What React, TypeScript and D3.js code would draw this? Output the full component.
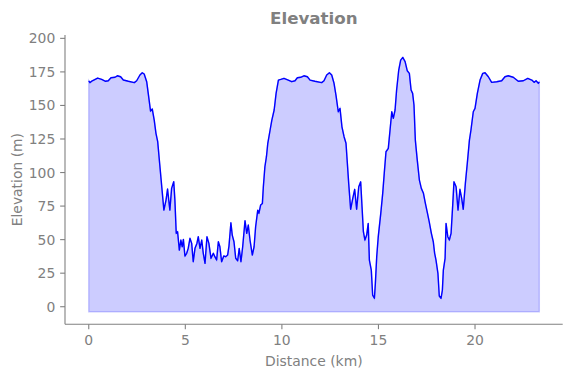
import React from "react";
import * as d3 from "d3";

const distanceKm = [
  0, 0.06, 0.18, 0.46, 0.67, 0.87, 1.01, 1.15, 1.36, 1.48, 1.65, 1.79, 2.05, 2.36, 2.48, 2.65, 2.77, 2.87, 3.0, 3.08,
  3.2, 3.29, 3.39, 3.48, 3.57, 3.67, 3.78, 3.89, 4.0, 4.08, 4.2, 4.29, 4.4, 4.46, 4.53, 4.6, 4.69, 4.77, 4.84, 4.9,
  4.98, 5.07, 5.15, 5.24, 5.33, 5.41, 5.5, 5.6, 5.67, 5.76, 5.85, 5.93, 6.02, 6.12, 6.22, 6.33, 6.45, 6.53, 6.62, 6.71,
  6.79, 6.88, 6.99, 7.09, 7.19, 7.26, 7.36, 7.43, 7.52, 7.61, 7.71, 7.79, 7.88, 7.97, 8.09, 8.18, 8.26, 8.35, 8.47, 8.56,
  8.64, 8.75, 8.81, 8.9, 8.99, 9.04, 9.12, 9.2, 9.27, 9.39, 9.48, 9.6, 9.7, 9.82, 9.94, 10.11, 10.33, 10.51, 10.68, 10.8,
  10.97, 11.14, 11.32, 11.46, 11.71, 12.06, 12.18, 12.32, 12.46, 12.58, 12.7, 12.8, 12.92, 13.01, 13.11, 13.22, 13.32, 13.39, 13.46, 13.56,
  13.67, 13.77, 13.87, 13.98, 14.08, 14.15, 14.22, 14.3, 14.39, 14.47, 14.53, 14.63, 14.7, 14.79, 14.84, 14.91, 14.99, 15.12, 15.22, 15.3,
  15.39, 15.51, 15.6, 15.69, 15.77, 15.86, 15.94, 16.05, 16.15, 16.26, 16.38, 16.49, 16.6, 16.69, 16.77, 16.84, 16.91, 17.01, 17.12, 17.22,
  17.33, 17.43, 17.54, 17.63, 17.74, 17.84, 17.91, 17.98, 18.08, 18.15, 18.24, 18.31, 18.36, 18.45, 18.5, 18.59, 18.67, 18.76, 18.85, 18.91,
  19.02, 19.12, 19.22, 19.31, 19.39, 19.5, 19.6, 19.71, 19.79, 19.91, 20.0, 20.12, 20.26, 20.4, 20.52, 20.69, 20.86, 21.12, 21.38, 21.55,
  21.72, 21.98, 22.24, 22.5, 22.73, 22.94, 23.06, 23.16, 23.28, 23.33,
];

const elevationM = [
  168.4, 167, 168.4, 170.4, 169.4, 168, 168.4, 170.6, 171, 172.1, 171.4, 169, 168, 167, 168.4, 172.7, 174.4, 173.4, 167.7, 159,
  145.8, 147.3, 139, 129.2, 123, 106.9, 89.4, 72, 79.5, 87.7, 72, 88.2, 93.2, 79.5, 54.7, 55.9, 42.2, 49.7, 44.7, 50.2,
  37.8, 39.8, 43.5, 51, 47.2, 33.5, 43.5, 47.2, 52.2, 43.5, 49.7, 39.8, 32.3, 52.2, 47.2, 36.1, 39.8, 37.3, 34.8, 48.4,
  44.7, 33.5, 37.8, 37.3, 38.5, 45.2, 62.6, 53.4, 48.4, 36.1, 34.3, 43.5, 33.5, 44.7, 64.1, 54.7, 60.9, 49.7, 38.5, 44.7,
  59.6, 72, 69.6, 75.8, 77, 89.4, 104.3, 111.8, 121.8, 131.7, 139.1, 146.6, 159, 168.9, 169.4, 170.2, 168.9, 167.7, 168.4, 170.6,
  171, 172.1, 171.4, 168.9, 168, 167, 168.4, 172.7, 174.4, 172.7, 166.5, 157.7, 145.3, 147.8, 134.1, 126.7, 121.8, 106.9, 91.9, 72.6,
  80.8, 87.5, 72.6, 89.4, 93.1, 74.5, 55.9, 49.7, 53.4, 62.1, 34.8, 27.3, 8.7, 6.3, 17.4, 37.3, 52.2, 69.6, 84.5, 99.4,
  115.5, 118, 131.7, 145.3, 140.4, 146.6, 161.5, 176.4, 183.8, 185.8, 182.6, 175.9, 173.9, 161.5, 159, 150.3, 124.2, 109.3, 94.4, 88.2,
  84.5, 77, 69.6, 63.3, 54.7, 48.4, 39.8, 34.8, 24.9, 8, 6.3, 12.4, 27.3, 36.1, 62.1, 52.2, 49.7, 54.7, 77, 93.1,
  89.4, 72, 87.5, 80.8, 72.6, 91.9, 106.9, 124.2, 131.7, 145.3, 147.8, 159, 168.9, 173.9, 174.4, 171.4, 167.2, 167.7, 168.4, 171.4,
  172.1, 171, 168, 168.4, 170.2, 168.9, 167.2, 168.4, 166.5, 167.5,
];

const xTicks = [0, 5, 10, 15, 20];
const yTicks = [0, 25, 50, 75, 100, 125, 150, 175, 200];
const fillBase = -3.7;
const titleText = "Elevation";
const xLabel = "Distance (km)";
const yLabel = "Elevation (m)";

export default function App() {
  const W = 571, H = 378;
  const left = 65, right = 562.7, top = 35, bottom = 324.3;
  const x = d3.scaleLinear().domain([-1.23, 24.54]).range([left, right]);
  const y = d3.scaleLinear().domain([-13.1, 202.5]).range([bottom, top]);
  const pts: [number, number][] = distanceKm.map((d, i) => [d, elevationM[i]]);
  const line = d3.line<[number, number]>().x((d) => x(d[0])).y((d) => y(d[1]));
  const area = d3
    .area<[number, number]>()
    .x((d) => x(d[0]))
    .y0(y(fillBase))
    .y1((d) => y(d[1]));
  const gray = "#808080";
  const font = "DejaVu Sans";
  const tickLen = 4.86;
  return (
    <svg
      width={W}
      height={H}
      style={{ position: "absolute", left: 0, top: 0, background: "#fff" }}
      fontFamily={font}
    >
      <path
        d={area(pts) + "Z"}
        fill="blue"
        fillOpacity={0.2}
        stroke="blue"
        strokeOpacity={0.2}
        strokeWidth={1.4}
      />
      <path d={line(pts) || ""} fill="none" stroke="#0000ff" strokeWidth={1.4} strokeLinejoin="round" />
      <line x1={left} x2={left} y1={top} y2={bottom} stroke={gray} strokeWidth={1.1} />
      <line x1={left} x2={right} y1={bottom} y2={bottom} stroke={gray} strokeWidth={1.1} />
      {xTicks.map((t) => (
        <g key={"x" + t}>
          <line x1={x(t)} x2={x(t)} y1={bottom} y2={bottom + tickLen} stroke={gray} strokeWidth={1.1} />
          <text x={x(t)} y={bottom + tickLen + 4.9 + 10.6} textAnchor="middle" fontSize={13.9} fill={gray}>
            {t}
          </text>
        </g>
      ))}
      {yTicks.map((t) => (
        <g key={"y" + t}>
          <line x1={left - tickLen} x2={left} y1={y(t)} y2={y(t)} stroke={gray} strokeWidth={1.1} />
          <text x={left - tickLen - 4.9} y={y(t)} dy="0.36em" textAnchor="end" fontSize={13.9} fill={gray}>
            {t}
          </text>
        </g>
      ))}
      <text x={(left + right) / 2} y={366} textAnchor="middle" fontSize={13.9} fill={gray}>
        {xLabel}
      </text>
      <text
        transform={`translate(22,${(top + bottom) / 2}) rotate(-90)`}
        textAnchor="middle"
        fontSize={13.9}
        fill={gray}
      >
        {yLabel}
      </text>
      <text x={(left + right) / 2} y={24} textAnchor="middle" fontSize={16.7} fontWeight="bold" fill={gray}>
        {titleText}
      </text>
    </svg>
  );
}
